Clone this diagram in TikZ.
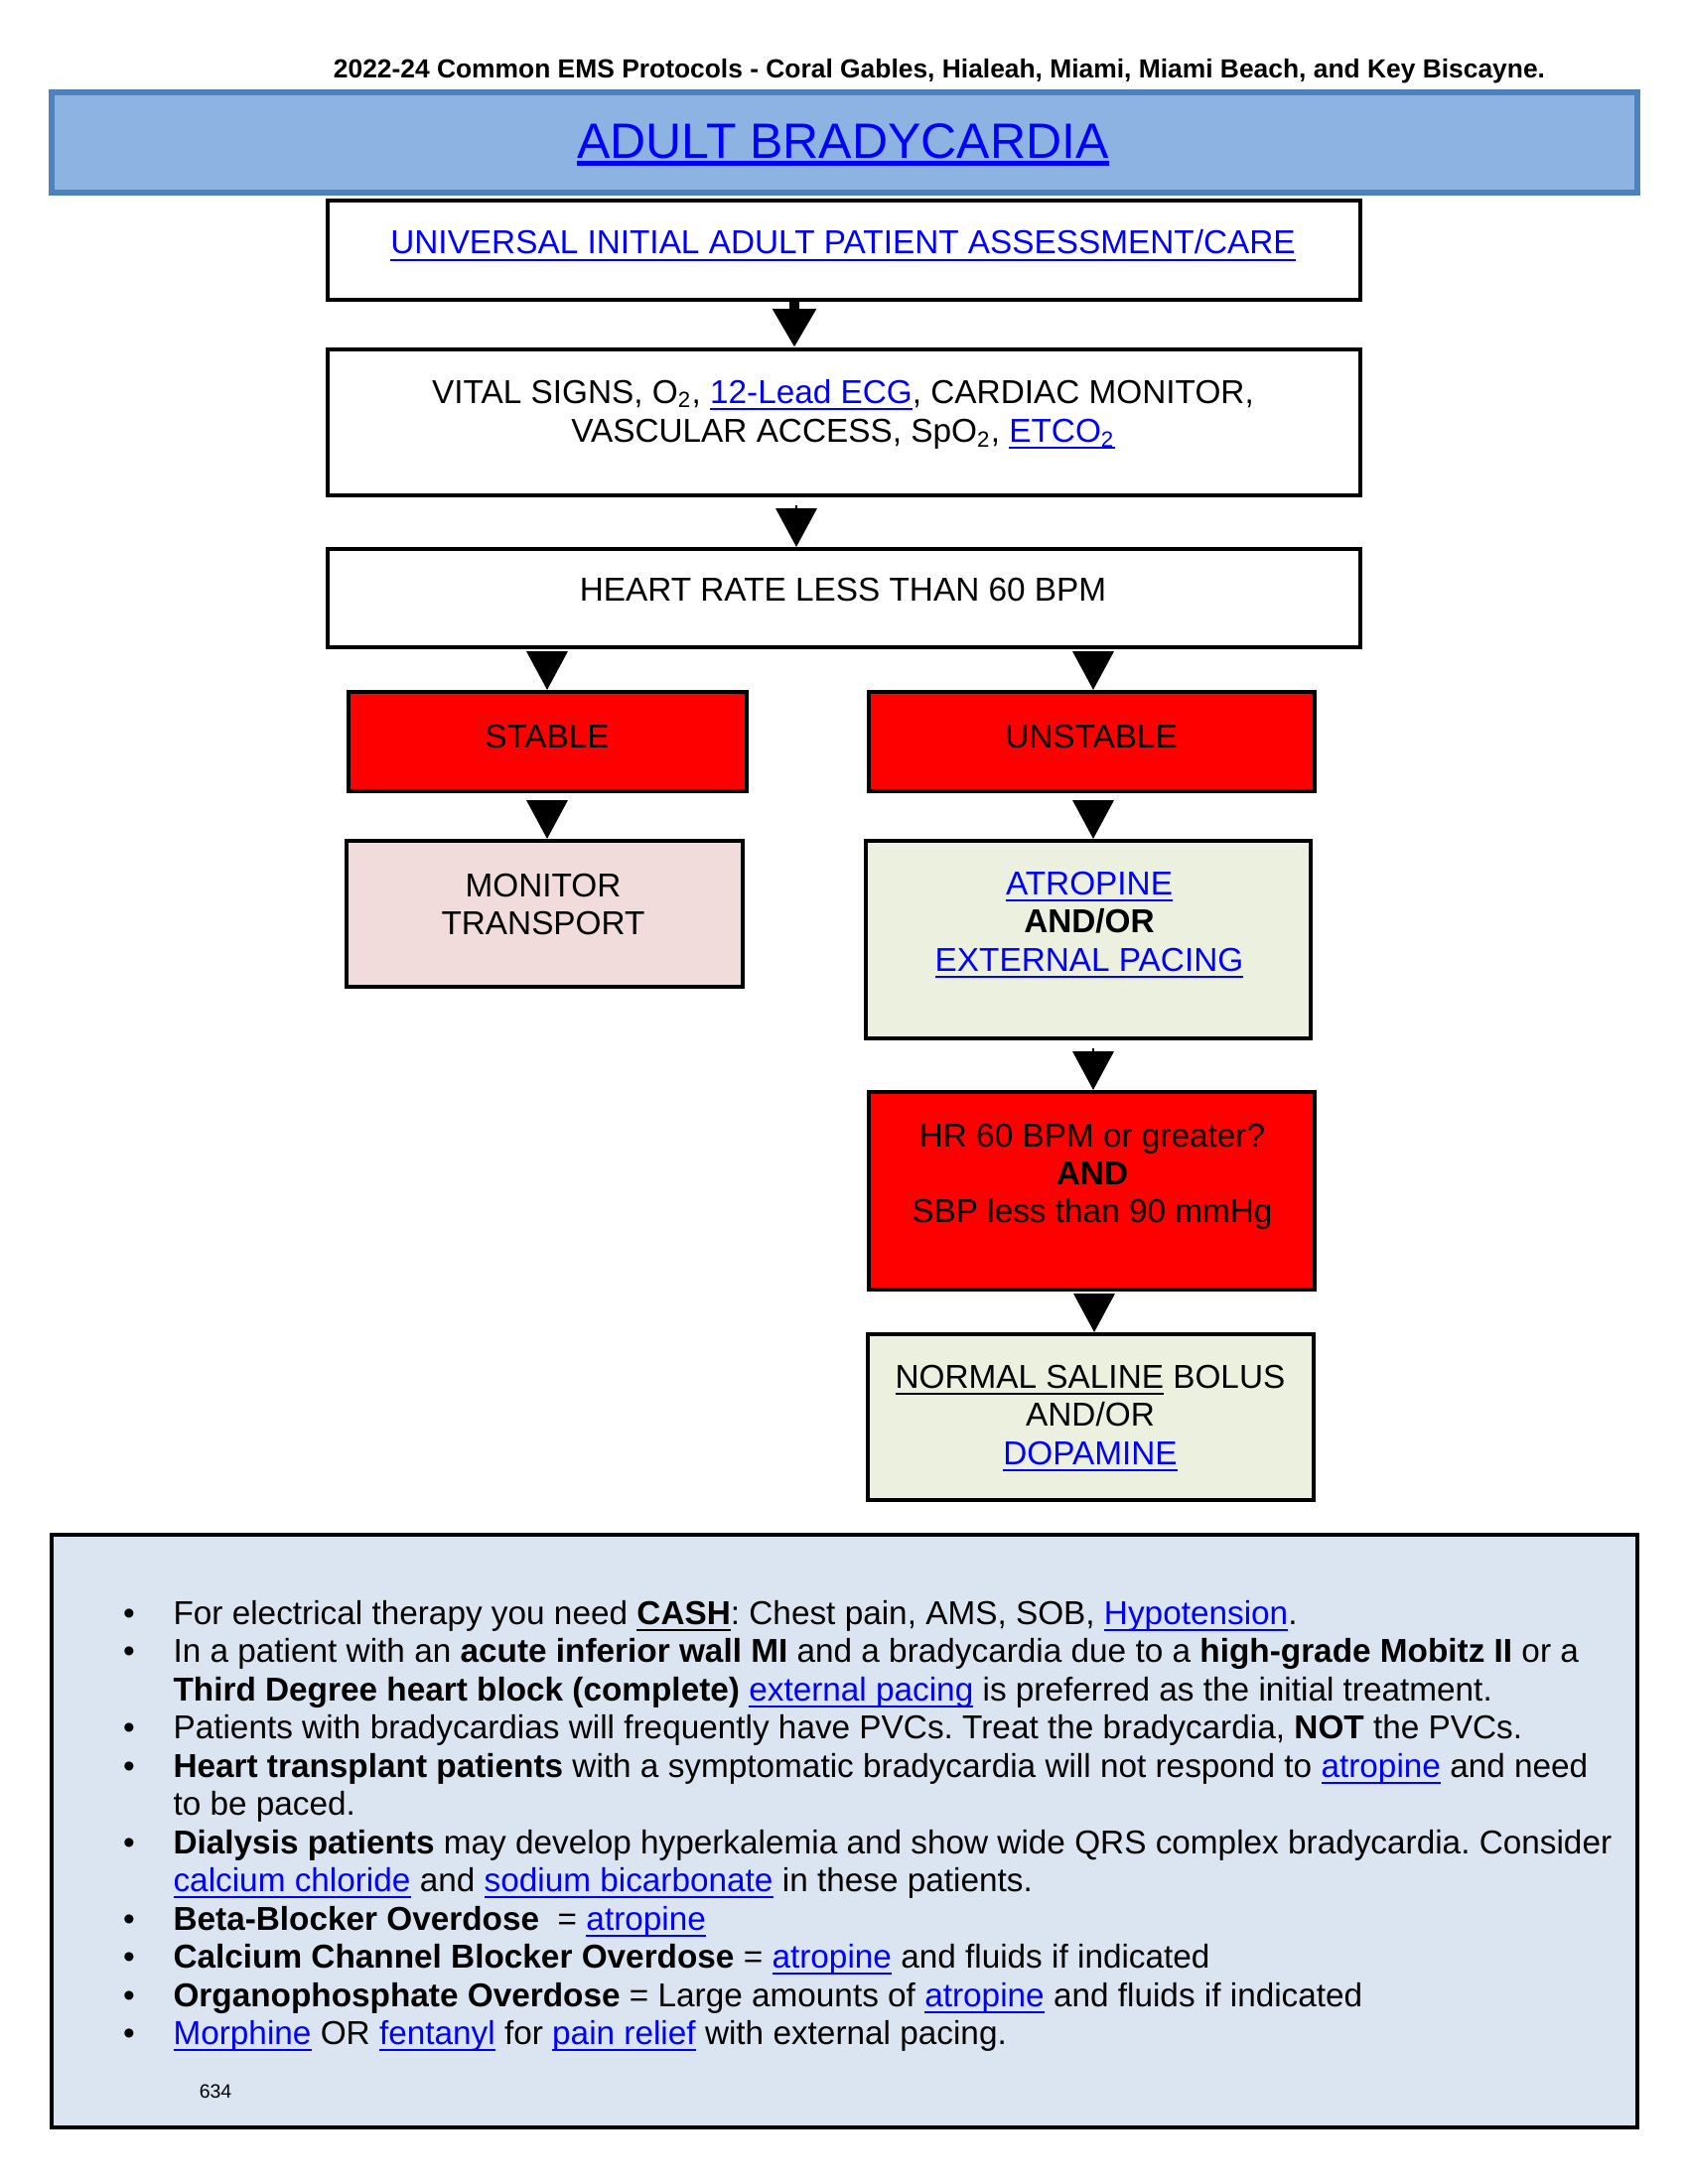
\documentclass[tikz,border=0pt]{standalone}
\usepackage{fontspec}
\setmainfont{Liberation Sans}
\usetikzlibrary{arrows.meta,fit}
\definecolor{linkblue}{HTML}{0000FF}
\definecolor{titlefill}{HTML}{8DB3E2}
\definecolor{titleedge}{HTML}{4F81BD}
\definecolor{notefill}{HTML}{DBE5F1}
\definecolor{boxred}{HTML}{FF0000}
\definecolor{boxpink}{HTML}{F2DCDB}
\definecolor{boxgreen}{HTML}{EBF1DE}
\newcommand\ulpos{-2.5pt}
\newcommand\ulthk{0.85pt}
\newcommand\myul[1]{\leavevmode\setbox0\hbox{#1}\rlap{\rule[\ulpos]{\wd0}{\ulthk}}\box0\relax}
\newcommand\lnk[1]{{\color{linkblue}\myul{#1}}}
\newcommand\txtline[4]{\node[txt] (#1) at (#2,#3) {#4};}
\frenchspacing
\begin{document}
\frenchspacing
\begin{tikzpicture}[x=0.36pt,y=-0.36pt,
  box/.style={draw=black,line width=1.5pt,inner sep=0pt},
  txt/.style={inner sep=0pt,anchor=base,font=\fontsize{12}{14}\selectfont},
  ltxt/.style={inner sep=0pt,anchor=base west,font=\fontsize{12}{14}\selectfont},
  arr/.style={-{Triangle[width=15pt,length=14pt]},line width=0.4pt,shorten <=3pt},
  arrstem/.style={-{Triangle[width=15pt,length=14pt]},line width=3.6pt}
]
\useasboundingbox (0,0) rectangle (1700,2200);
\fill[white] (0,0) rectangle (1700,2200);

% header
\node[inner sep=0pt,anchor=base,font=\bfseries\fontsize{9.5}{11}\selectfont] (hdr) at (946,79)
  {2022-24 Common EMS Protocols - Coral Gables, Hialeah, Miami, Miami Beach, and Key Biscayne.};

% title
\node[fit={(52,93) (1649,194)},inner sep=0pt,fill=titlefill,draw=titleedge,line width=2pt] (title) {};
\node[inner sep=0pt,anchor=base,font=\fontsize{18}{20}\selectfont] (titletxt) at (849,160)
  {\renewcommand\ulpos{-2.4pt}\renewcommand\ulthk{1.8pt}\lnk{ADULT BRADYCARDIA}};

% flow boxes
\node[box,fit={(330,202) (1370,302)}] (b1) {};
\node[box,fit={(330,352) (1370,499)}] (b2) {};
\node[box,fit={(330,553) (1370,652)}] (b3) {};
\node[box,fill=boxred,fit={(351,697) (752,797)}] (stable) {};
\node[box,fill=boxred,fit={(875,697) (1324,797)}] (unstable) {};
\node[box,fill=boxpink,fit={(349,847) (748,994)}] (monitor) {};
\node[box,fill=boxgreen,fit={(872,847) (1320,1046)}] (atro) {};
\node[box,fill=boxred,fit={(875,1100) (1324,1299)}] (hrq) {};
\node[box,fill=boxgreen,fit={(874,1344) (1323,1511)}] (saline) {};

% arrows
\coordinate (ax1) at (800,0);
\coordinate (ax2) at (802,0);
\coordinate (axl) at (551,0);
\coordinate (axr) at (1101,0);
\coordinate (axr2) at (1102,0);
\draw[arrstem] (b1.south -| ax1) -- (b2.north -| ax1);
\draw[arr] (b2.south -| ax2) -- (b3.north -| ax2);
\draw[arr] (b3.south -| axl) -- (stable.north -| axl);
\draw[arr] (b3.south -| axr) -- (unstable.north -| axr);
\draw[arr] (stable.south -| axl) -- (monitor.north -| axl);
\draw[arr] (unstable.south -| axr) -- (atro.north -| axr);
\draw[arr] (atro.south -| axr) -- (hrq.north -| axr);
\draw[arr] (hrq.south -| axr2) -- (saline.north -| axr2);

% box texts
\txtline{t1}{849}{256}{\lnk{UNIVERSAL INITIAL ADULT PATIENT ASSESSMENT/CARE}}
\txtline{t2a}{849}{406}{VITAL SIGNS, O\textsubscript{2}, \lnk{12-Lead ECG}, CARDIAC MONITOR,}
\txtline{t2b}{849}{445}{VASCULAR ACCESS, SpO\textsubscript{2}, \lnk{ETCO\textsubscript{2}}}
\txtline{t3}{849}{605}{HEART RATE LESS THAN 60 BPM}
\txtline{ts}{551}{753}{STABLE}
\txtline{tu}{1099}{753}{UNSTABLE}
\txtline{tm1}{547}{903}{MONITOR}
\txtline{tm2}{547}{941}{TRANSPORT}
\txtline{ta1}{1097}{901}{\lnk{ATROPINE}}
\txtline{ta2}{1097}{939}{\textbf{AND/OR}}
\txtline{ta3}{1097}{978}{\lnk{EXTERNAL PACING}}
\txtline{th1}{1100}{1155}{HR 60 BPM or greater?}
\txtline{th2}{1100}{1193}{\textbf{AND}}
\txtline{th3}{1100}{1231}{SBP less than 90 mmHg}
\txtline{tn1}{1098}{1398}{\myul{NORMAL SALINE} BOLUS}
\txtline{tn2}{1098}{1436}{AND/OR}
\txtline{tn3}{1098}{1475}{\lnk{DOPAMINE}}

% notes box
\node[fit={(52,1546) (1649,2143)},inner sep=0pt,fill=notefill,draw=black,line width=1.7pt] (notes) {};
\foreach \i/\yy in {1/1636,2/1674.5,4/1751.5,5/1790,7/1867,9/1944,10/1982.5,11/2021,12/2059.5}{
  \node[txt] (bul\i) at (130,\yy) {\textbullet};
}
\node[ltxt] (n1) at (174,1636) {For electrical therapy you need \textbf{\myul{CASH}}: Chest pain, AMS, SOB, \lnk{Hypotension}.};
\node[ltxt] (n2) at (174,1674.5) {In a patient with an \textbf{acute inferior wall MI} and a bradycardia due to a \textbf{high-grade Mobitz II} or a};
\node[ltxt] (n3) at (174,1713) {\textbf{Third Degree heart block (complete)} \lnk{external pacing} is preferred as the initial treatment.};
\node[ltxt] (n4) at (174,1751.5) {Patients with bradycardias will frequently have PVCs. Treat the bradycardia, \textbf{NOT} the PVCs.};
\node[ltxt] (n5) at (174,1790) {\textbf{Heart transplant patients} with a symptomatic bradycardia will not respond to \lnk{atropine} and need};
\node[ltxt] (n6) at (174,1828.5) {to be paced.};
\node[ltxt] (n7) at (174,1867) {\textbf{Dialysis patients} may develop hyperkalemia and show wide QRS complex bradycardia. Consider};
\node[ltxt] (n8) at (174,1905.5) {\lnk{calcium chloride} and \lnk{sodium bicarbonate} in these patients.};
\node[ltxt] (n9) at (174,1944) {\textbf{Beta-Blocker Overdose}\ \ = \lnk{atropine}};
\node[ltxt] (n10) at (174,1982.5) {\textbf{Calcium Channel Blocker Overdose} = \lnk{atropine} and fluids if indicated};
\node[ltxt] (n11) at (174,2021) {\textbf{Organophosphate Overdose} = Large amounts of \lnk{atropine} and fluids if indicated};
\node[ltxt] (n12) at (174,2059.5) {\lnk{Morphine} OR \lnk{fentanyl} for \lnk{pain relief} with external pacing.};
\node[inner sep=0pt,anchor=base,font=\fontsize{7}{8}\selectfont] (pg) at (217,2113) {634};
\end{tikzpicture}
\end{document}
